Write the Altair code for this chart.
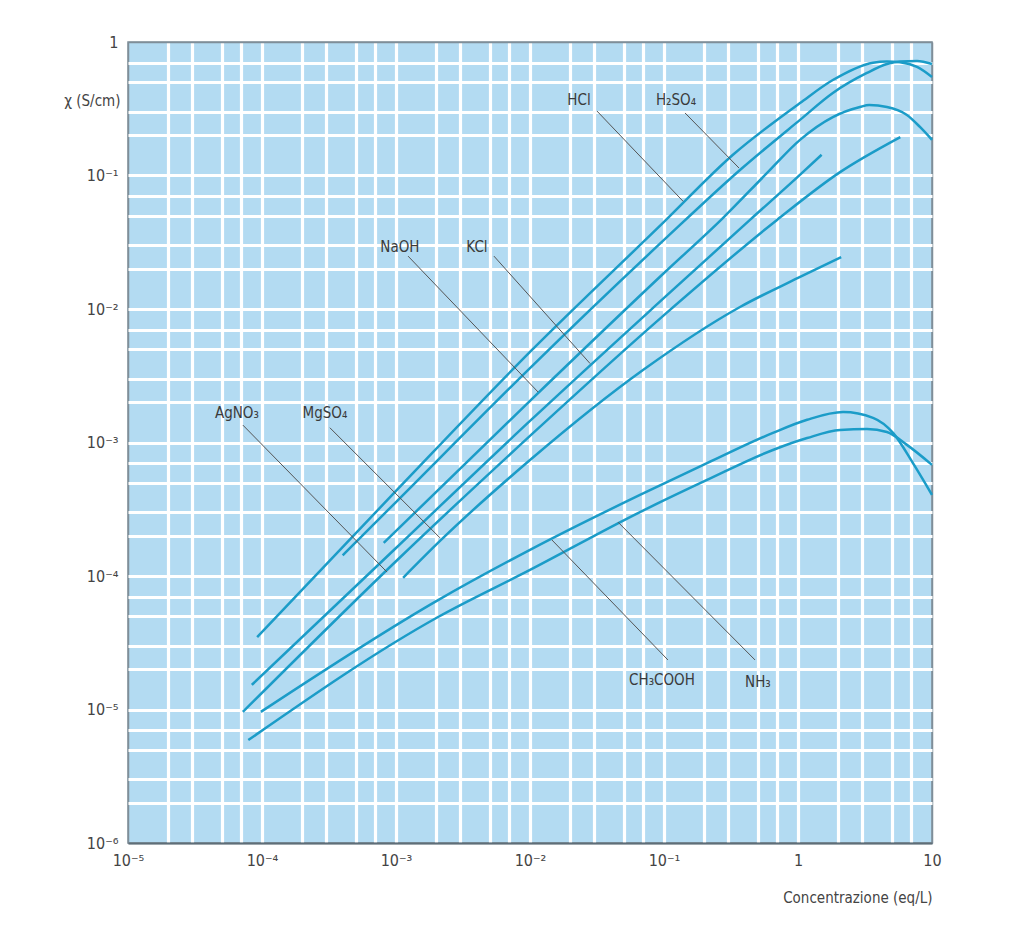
import altair as alt
import pandas as pd

# ---------------- data ----------------
series_names = ["HCl", "H2SO4", "NaOH", "KCl", "AgNO3", "MgSO4", "CH3COOH", "NH3"]

hcl_c = [9.2e-5, 1e-3, 1e-2, 0.1, 0.327, 1.035, 1.82, 3.63, 4.6, 5.77, 7.73, 10]
hcl_k = [3.49e-5, 4.34e-4, 4.77e-3, 0.0449, 0.143, 0.349, 0.519, 0.70, 0.715, 0.705, 0.65, 0.547]

h2so4_c = [4.0e-4, 1e-3, 1e-2, 0.1, 0.369, 1.035, 1.82, 3.27, 4.61, 5.77, 7.73, 10]
h2so4_k = [1.43e-4, 3.58e-4, 3.61e-3, 0.0329, 0.11, 0.261, 0.415, 0.586, 0.684, 0.715, 0.72, 0.684]

naoh_c = [8.1e-4, 1e-2, 0.1, 0.275, 0.588, 1.035, 1.82, 2.9, 3.4, 4.61, 6.5, 8.13, 10]
naoh_k = [1.77e-4, 2.05e-3, 0.0186, 0.048, 0.1045, 0.185, 0.274, 0.326, 0.337, 0.326, 0.284, 0.231, 0.185]

kcl_c = [8.4e-5, 1e-3, 1e-2, 0.1, 0.438, 1.0, 1.5]
kcl_k = [1.53e-5, 1.62e-4, 1.45e-3, 0.0121, 0.0465, 0.098, 0.143]

agno3_c = [7.2e-5, 1e-3, 1e-2, 0.1, 0.697, 2.06, 5.8]
agno3_k = [9.6e-6, 1.29e-4, 1.12e-3, 9.0e-3, 0.0465, 0.106, 0.194]

mgso4_c = [1.13e-3, 2.13e-3, 1e-2, 0.0697, 0.369, 1.0, 2.1]
mgso4_k = [9.7e-5, 1.83e-4, 7.39e-4, 3.49e-3, 0.01035, 0.0171, 0.0245]

ch3cooh_c = [9.8e-5, 2.06e-3, 0.01, 0.0662, 0.2095, 0.65, 1.17, 2.17, 3.63, 5.12, 7.21, 10]
ch3cooh_k = [9.6e-6, 6.6e-5, 1.57e-4, 4.05e-4, 7.0e-4, 1.18e-3, 1.48e-3, 1.69e-3, 1.53e-3, 1.18e-3, 7.0e-4, 4.05e-4]

nh3_c = [7.9e-5, 2.06e-3, 0.01, 0.0662, 0.2095, 0.65, 1.17, 2.06, 3.27, 4.61, 6.5, 10]
nh3_k = [5.9e-6, 4.93e-5, 1.11e-4, 3.01e-4, 5.24e-4, 8.79e-4, 1.08e-3, 1.24e-3, 1.26e-3, 1.2e-3, 9.6e-4, 6.8e-4]

# labels and leader lines
label_text = ["HCl", "H\u2082SO\u2084", "NaOH", "KCl", "AgNO\u2083", "MgSO\u2084", "CH\u2083COOH", "NH\u2083"]
label_c = [0.0232, 0.123, 1.07e-3, 4.02e-3, 6.5e-5, 2.95e-4, 0.0966, 0.502]
label_k = [0.368, 0.368, 0.0291, 0.0291, 1.66e-3, 1.66e-3, 1.66e-5, 1.61e-5]
leader_c1 = [0.0316, 0.1436, 1.23e-3, 5.38e-3, 7.2e-5, 3.21e-4, 0.01459, 0.0454]
leader_k1 = [0.304, 0.294, 0.0249, 0.0249, 1.35e-3, 1.29e-3, 1.86e-4, 2.53e-4]
leader_c2 = [0.139, 0.363, 0.01148, 0.0281, 8.57e-4, 2.13e-3, 0.107, 0.478]
leader_k2 = [0.064, 0.1137, 2.39e-3, 3.9e-3, 1.07e-4, 1.93e-4, 2.35e-5, 2.35e-5]

# grid / tick positions: 1, 2, 3, 5, 7 x 10^n
mults = [1, 2, 3, 5, 7]
x_grid = [m * 10.0 ** e for e in range(-5, 1) for m in mults] + [10.0]
y_grid = [m * 10.0 ** e for e in range(-6, 0) for m in mults] + [1.0]

# ---------------- build tables ----------------
curves = [
    (hcl_c, hcl_k), (h2so4_c, h2so4_k), (naoh_c, naoh_k), (kcl_c, kcl_k),
    (agno3_c, agno3_k), (mgso4_c, mgso4_k), (ch3cooh_c, ch3cooh_k), (nh3_c, nh3_k),
]
rows = []
for name, (cs, ks) in zip(series_names, curves):
    for i, (c, k) in enumerate(zip(cs, ks)):
        rows.append({"name": name, "i": i, "c": c, "k": k})
df = pd.DataFrame(rows)

lab_df = pd.DataFrame({"text": label_text, "c": label_c, "k": label_k})
lead_df = pd.DataFrame({"c": leader_c1, "k": leader_k1, "c2": leader_c2, "k2": leader_k2})

FONT = "Liberation Sans Narrow, DejaVu Sans Condensed, Liberation Sans, sans-serif"
TXT = "#444444"
LINE = "#1b9cc8"
BG = "#b3dbf2"
EDGE = "#7f8e99"

L = "(log(datum.value)/LN10)"
label_expr = (
    f"abs({L} - round({L})) > 0.01 ? '' : "
    f"round({L}) == 0 ? '1' : round({L}) == 1 ? '10' : "
    f"'10\u207b' + ['\u2070','\u00b9','\u00b2','\u00b3','\u2074','\u2075','\u2076'][-round({L})]"
)

x_edge = "datum.value < 1.01e-5 || datum.value > 9.99"
y_edge = "datum.value < 1.01e-6 || datum.value > 0.999"

xs = alt.Scale(type="log", domain=[1e-5, 10])
ys = alt.Scale(type="log", domain=[1e-6, 1])

x_axis = alt.Axis(
    values=x_grid, labelExpr=label_expr, labelOverlap=False, labelFlush=False,
    grid=True,
    gridColor={"condition": {"test": x_edge, "value": EDGE}, "value": "white"},
    gridWidth={"condition": {"test": x_edge, "value": 1.5}, "value": 3.2},
    gridOpacity=1,
    ticks=False, domain=True, domainColor="#5f6e78", domainWidth=2,
    labelFont=FONT, labelFontSize=16, labelColor=TXT, labelPadding=9,
    title="Concentrazione (eq/L)", titleFont=FONT, titleFontSize=15,
    titleFontWeight="normal", titleColor=TXT,
    titleX=804, titleY=54, titleAlign="right", titleBaseline="middle",
)
y_axis = alt.Axis(
    values=y_grid, labelExpr=label_expr, labelOverlap=False, labelFlush=False,
    grid=True,
    gridColor={"condition": {"test": y_edge, "value": EDGE}, "value": "white"},
    gridWidth={"condition": {"test": y_edge, "value": 1.5}, "value": 3.2},
    gridOpacity=1,
    ticks=False, domain=False,
    labelFont=FONT, labelFontSize=16, labelColor=TXT, labelPadding=10,
    title="\u03c7 (S/cm)", titleFont=FONT, titleFontSize=15,
    titleFontWeight="normal", titleColor=TXT, titleAngle=0,
    titleX=-8, titleY=58, titleAlign="right", titleBaseline="middle",
)

lines = alt.Chart(df).mark_line(
    strokeWidth=2.5, color=LINE, interpolate="monotone"
).encode(
    x=alt.X("c:Q", scale=xs, axis=x_axis),
    y=alt.Y("k:Q", scale=ys, axis=y_axis),
    detail="name:N",
    order="i:Q",
)

leaders = alt.Chart(lead_df).mark_rule(color="#555555", strokeWidth=1).encode(
    x=alt.X("c:Q", scale=xs),
    y=alt.Y("k:Q", scale=ys),
    x2="c2:Q",
    y2="k2:Q",
)

labels = alt.Chart(lab_df).mark_text(
    font=FONT, fontSize=15, color="#3a3a3a", align="center", baseline="middle"
).encode(
    x=alt.X("c:Q", scale=xs),
    y=alt.Y("k:Q", scale=ys),
    text="text:N",
)

chart = alt.layer(lines, leaders, labels).properties(
    width=804,
    height=801,
    padding={"left": 120, "top": 34, "right": 80, "bottom": 70},
    autosize=alt.AutoSizeParams(type="none"),
).configure_view(
    fill=BG, stroke=EDGE, strokeWidth=1.5
)

chart.save("out.html", embed_options={"renderer": "svg", "actions": False})
